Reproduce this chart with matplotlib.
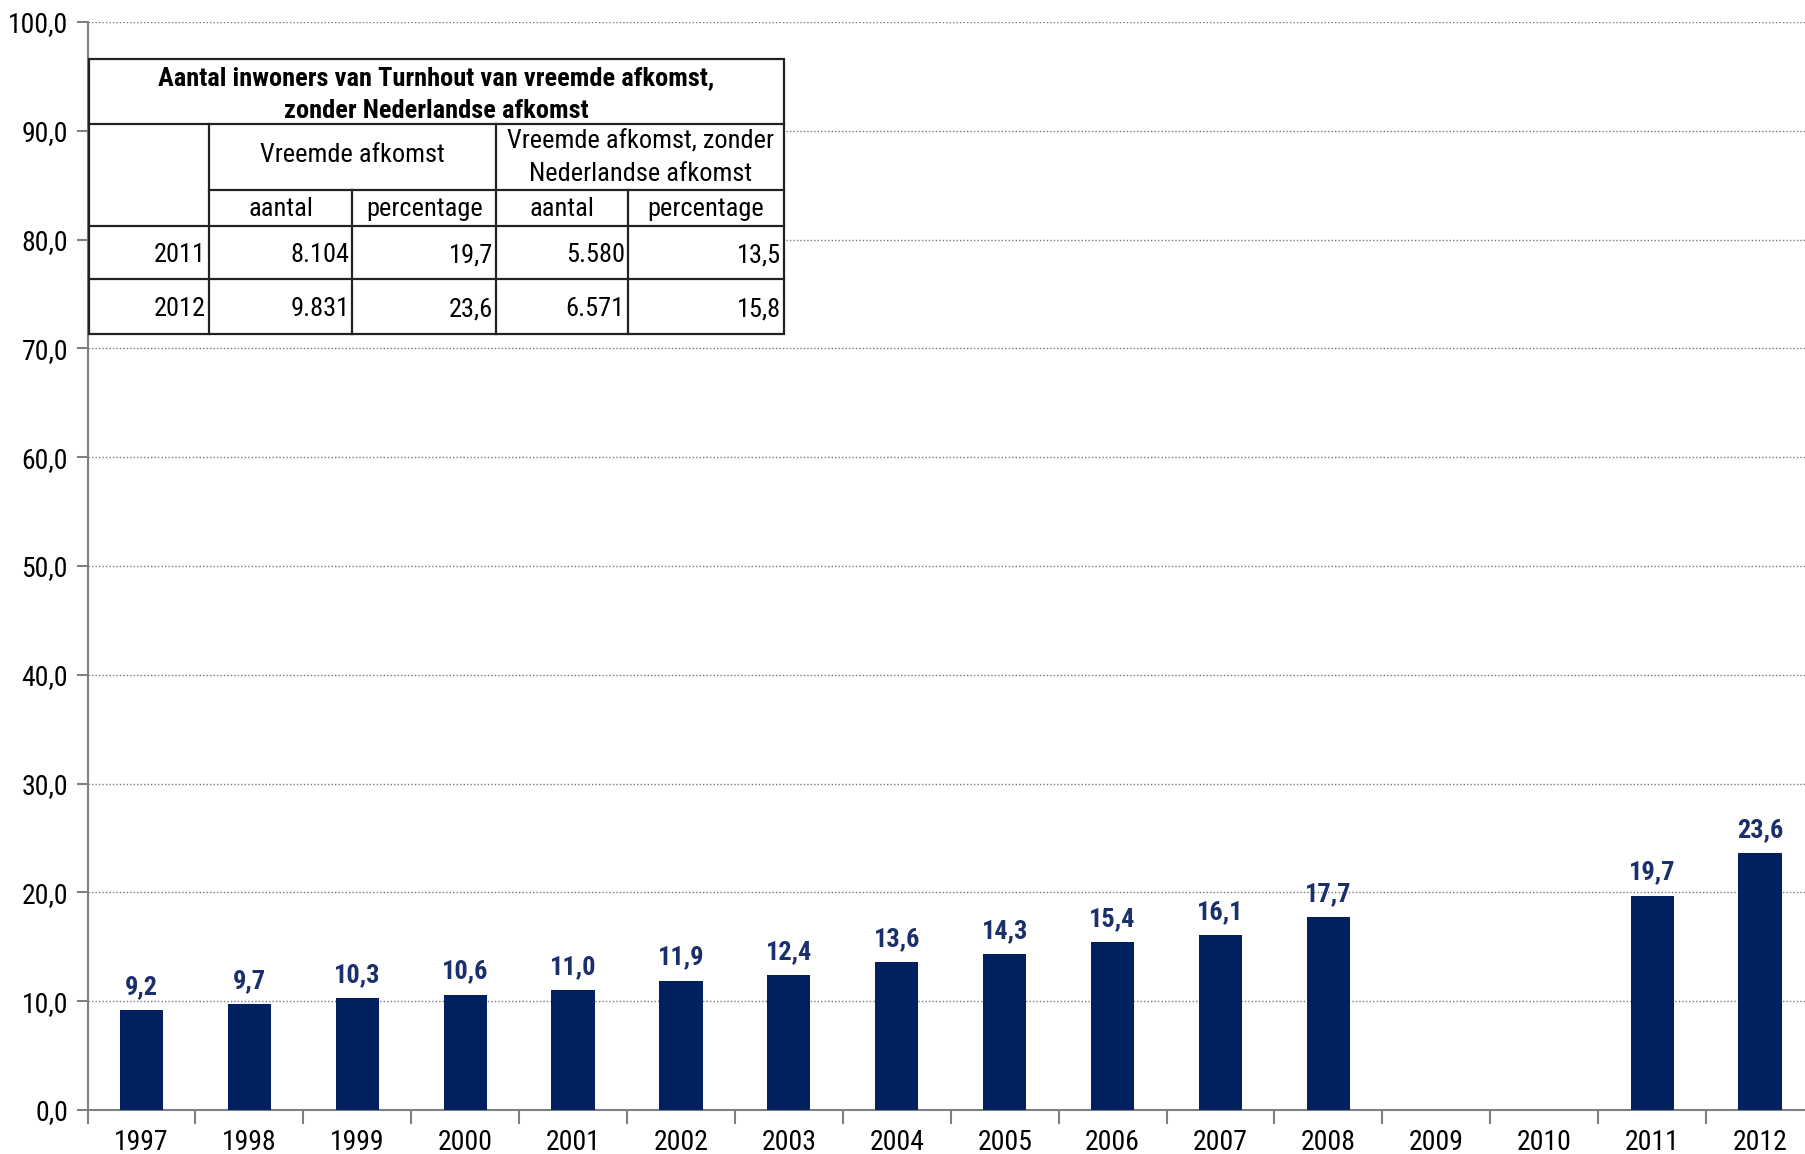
import numpy as np
import matplotlib.pyplot as plt
from matplotlib import font_manager

# data
years = ['1997', '1998', '1999', '2000', '2001', '2002', '2003', '2004',
         '2005', '2006', '2007', '2008', '2009', '2010', '2011', '2012']
pct = [9.2, 9.7, 10.3, 10.6, 11.0, 11.9, 12.4, 13.6,
       14.3, 15.4, 16.1, 17.7, None, None, 19.7, 23.6]

table_title = 'Aantal inwoners van Turnhout van vreemde afkomst,\nzonder Nederlandse afkomst'
group_heads = ['Vreemde afkomst', 'Vreemde afkomst, zonder\nNederlandse afkomst']
sub_heads = ['aantal', 'percentage', 'aantal', 'percentage']
table_years = ['2011', '2012']
table_rows = [['8.104', '19,7', '5.580', '13,5'],
              ['9.831', '23,6', '6.571', '15,8']]

# narrow font like Arial Narrow, take the first one installed
names = {f.name for f in font_manager.fontManager.ttflist}
fam = 'Liberation Sans'
for cand in ['Liberation Sans Narrow', 'Arial Narrow', 'Nimbus Sans Narrow',
             'Roboto Condensed', 'Archivo Narrow', 'PT Sans Narrow']:
    if cand in names:
        fam = cand
        break
plt.rcParams['font.family'] = [fam, 'DejaVu Sans']

W, H = 1806, 1154
fig = plt.figure(figsize=(W / 100, H / 100), dpi=100)
left, right, top, bottom = 87.5, 1814, 22, 1110
ax = fig.add_axes([left / W, 1 - bottom / H, (right - left) / W, (bottom - top) / H])

navy = '#002060'
grey = '#808080'
x = np.arange(len(years))
for i, v in enumerate(pct):
    if v is None:
        continue
    ax.bar(i, v, width=0.4, color=navy, zorder=3)
    ax.annotate(f'{v:.1f}'.replace('.', ','), (i, v), xytext=(0, 8),
                textcoords='offset points', ha='center', va='bottom',
                fontsize=19, fontweight='bold', color='#1a2f6b')

ax.set_xlim(-0.5, len(years) - 0.5)
ax.set_ylim(0, 100)
ax.set_yticks(np.arange(0, 101, 10))
ax.set_yticklabels([f'{t:.1f}'.replace('.', ',') for t in np.arange(0, 101, 10)])
ax.set_xticks(x)
ax.set_xticklabels(years)
ax.set_xticks(np.arange(-0.5, len(years)), minor=True)
ax.tick_params(axis='x', which='major', length=0, pad=14, labelsize=20)
ax.tick_params(axis='x', which='minor', length=10, color=grey, width=1.5)
ax.tick_params(axis='y', length=8, color=grey, width=1.5, labelsize=20, pad=6)
ax.grid(axis='y', linestyle=(0, (1, 1.5)), color='#777777', linewidth=1, zorder=0)
for s in ['top', 'right']:
    ax.spines[s].set_visible(False)
for s in ['left', 'bottom']:
    ax.spines[s].set_color(grey)
    ax.spines[s].set_linewidth(1.5)

# table drawn in pixel coords (top-left origin)
cols = [88.7, 208.5, 352.5, 496.4, 627.7, 784.4]
rows = [58.7, 124.4, 190.0, 225.8, 278.7, 334.0]


def fx(px):
    return px / W


def fy(py):
    return 1 - py / H


lw = 1.6
lc = '#222222'
fig.patches.append(plt.Rectangle((fx(cols[0]), fy(rows[-1])), fx(cols[-1]) - fx(cols[0]),
                                 fy(rows[0]) - fy(rows[-1]), transform=fig.transFigure,
                                 facecolor='white', edgecolor=lc, linewidth=lw, zorder=5))


def hline(py, x0, x1):
    fig.add_artist(plt.Line2D([fx(x0), fx(x1)], [fy(py), fy(py)], color=lc, lw=lw, zorder=6))


def vline(px, y0, y1):
    fig.add_artist(plt.Line2D([fx(px), fx(px)], [fy(y0), fy(y1)], color=lc, lw=lw, zorder=6))


hline(rows[1], cols[0], cols[-1])
hline(rows[2], cols[1], cols[-1])
hline(rows[3], cols[0], cols[-1])
hline(rows[4], cols[0], cols[-1])
vline(cols[1], rows[1], rows[-1])
vline(cols[3], rows[1], rows[-1])
vline(cols[2], rows[2], rows[-1])
vline(cols[4], rows[2], rows[-1])

fs = 19
fig.text(fx((cols[0] + cols[-1]) / 2), fy((rows[0] + rows[1]) / 2 + 3), table_title,
         ha='center', va='center', fontsize=fs, fontweight='bold', linespacing=1.45, zorder=7)
fig.text(fx((cols[1] + cols[3]) / 2), fy((rows[1] + rows[2]) / 2 - 2), group_heads[0],
         ha='center', va='center', fontsize=fs, zorder=7)
fig.text(fx((cols[3] + cols[5]) / 2), fy((rows[1] + rows[2]) / 2 + 1), group_heads[1],
         ha='center', va='center', fontsize=fs, linespacing=1.45, zorder=7)
for j, t in enumerate(sub_heads):
    fig.text(fx((cols[j + 1] + cols[j + 2]) / 2), fy((rows[2] + rows[3]) / 2 + 1), t,
             ha='center', va='center', fontsize=fs, zorder=7)
for r, (yr, vals) in enumerate(zip(table_years, table_rows)):
    yc = fy((rows[3 + r] + rows[4 + r]) / 2 + 3)
    fig.text(fx(cols[1] - 3), yc, yr, ha='right', va='center', fontsize=fs, zorder=7)
    for j, v in enumerate(vals):
        fig.text(fx(cols[j + 2] - 3), yc, v, ha='right', va='center', fontsize=fs, zorder=7)

fig.savefig('out.png', dpi=100)
